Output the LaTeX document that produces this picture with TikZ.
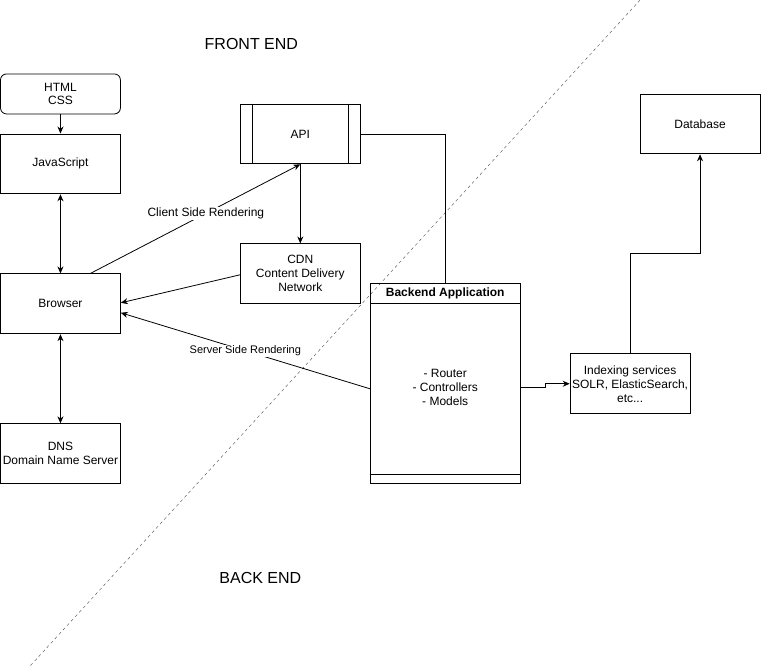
\documentclass[tikz,border=0pt]{standalone}
\usepackage{fontspec}
\setmainfont{Liberation Sans}
\usetikzlibrary{arrows.meta, positioning, calc}

\begin{document}
\begin{tikzpicture}[
    x=1pt, y=-1pt, >={Stealth[length=7pt, width=6pt]}, line width=0.8pt,
    font=\fontsize{12}{14}\selectfont,
    box/.style={draw, minimum width=120pt, minimum height=60pt,
                align=center, inner sep=2pt},
    edgelabel/.style={fill=white, inner sep=1pt},
    sidetitle/.style={font=\fontsize{16}{19}\selectfont}
  ]
  \useasboundingbox (-0.5,0) rectangle (761,666);

  % front end / back end split
  \draw[thin, dash pattern=on 3pt off 3pt, black!70] (640,0) -- (30,666);
  \node[sidetitle] (front) at (251,44) {FRONT END};
  \node[sidetitle] (back) at (260,578) {BACK END};

  % client side
  \node[box, rounded corners=6pt, minimum height=40pt] (html) at (60,94)
    {HTML\\CSS};
  \node[box] (js) at (60,164) {JavaScript};
  \node[box] (browser) at (60,304) {Browser};
  \node[box] (dns) at (60,454) {DNS\\Domain Name Server};

  \node[box] (api) at (300,134) {API};
  \draw ([xshift=12pt]api.north west) -- ([xshift=12pt]api.south west);
  \draw ([xshift=-12pt]api.north east) -- ([xshift=-12pt]api.south east);
  \node[box] (cdn) at (300,274) {CDN\\Content Delivery\\Network};

  % server side
  \node[box, minimum width=150pt, minimum height=200pt] (backend) at (445,384) {};
  \draw ([yshift=-20pt]backend.north west) -- ([yshift=-20pt]backend.north east);
  \draw ([yshift=10pt]backend.south west) -- ([yshift=10pt]backend.south east);
  \node[font=\fontsize{12}{14}\selectfont\bfseries] (backendtitle) at (445,294)
    {Backend Application};
  \node[align=center] (backendlist) at (445,388)
    {- Router\\- Controllers\\- Models};

  \node[box] (indexing) at (630,384)
    {Indexing services\\SOLR, ElasticSearch,\\etc...};
  \node[box] (database) at (700,124) {Database};

  % connectors
  \draw[->] (html) -- (js);
  \draw[<->] (js) -- (browser);
  \draw[<->] (browser) -- (dns);
  \draw[->] ([xshift=30pt]browser.north) -- node[edgelabel, pos=0.55]
    {Client Side Rendering} (api.south);
  \draw[->] (api) -- (cdn);
  \draw[->] ([yshift=-1pt]cdn.west) -- ([yshift=1pt]browser.east);
  \draw[->] ([yshift=-5pt]backend.west) -- node[edgelabel, pos=0.5,
    font=\fontsize{11}{13}\selectfont] {Server Side Rendering}
    ([yshift=-9pt]browser.east);
  \draw (api.east) -| (backend.north);
  \draw[->] ([yshift=-4pt]backend.east) -- ++(25,0) |- (indexing.west);
  \draw[->] (indexing.north) -- ++(0,-100) -| (database.south);
\end{tikzpicture}
\end{document}
